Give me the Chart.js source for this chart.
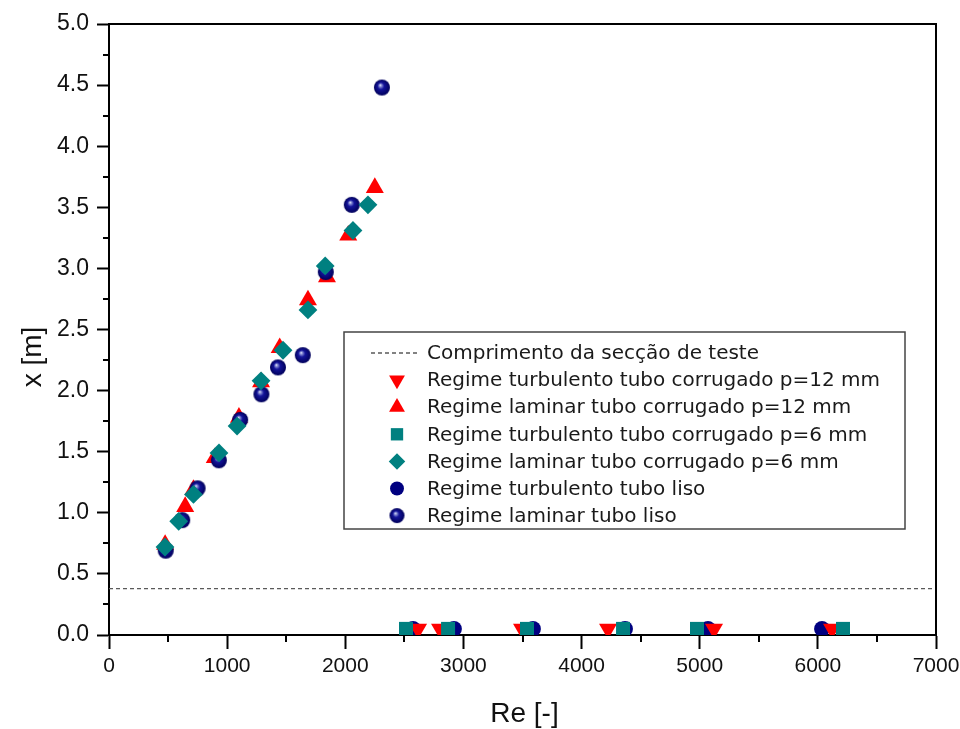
<!DOCTYPE html>
<html>
<head>
<meta charset="utf-8">
<script src="https://cdn.jsdelivr.net/npm/chart.js@4.4.1/dist/chart.umd.min.js"></script>
<style>
  html, body { margin: 0; padding: 0; background: #ffffff; }
  canvas { display: block; }
</style>
</head>
<body>
<canvas id="chart" width="960" height="729"></canvas>
<script>
// Development length x [m] against Reynolds number Re [-]
const reTurbP12  = [2616, 2802, 3496, 4224, 5121, 6120];
const xTurbP12   = [0.05, 0.05, 0.05, 0.05, 0.05, 0.05];
const reLamP12   = [475, 645, 715, 895, 1100, 1287, 1445, 1684, 1845, 2025, 2250];
const xLamP12    = [0.74, 1.05, 1.19, 1.45, 1.78, 2.07, 2.35, 2.74, 2.93, 3.27, 3.66];
const reTurbP6   = [2514, 2870, 3538, 4351, 4977, 6213];
const xTurbP6    = [0.05, 0.05, 0.05, 0.05, 0.05, 0.05];
const reLamP6    = [474, 590, 715, 931, 1084, 1287, 1473, 1684, 1830, 2065, 2192];
const xLamP6     = [0.72, 0.93, 1.15, 1.49, 1.71, 2.08, 2.33, 2.66, 3.02, 3.31, 3.52];
const reTurbLiso = [2573, 2920, 3589, 4368, 5070, 6035];
const xTurbLiso  = [0.05, 0.05, 0.05, 0.05, 0.05, 0.05];
const reLamLiso  = [480, 620, 750, 930, 1110, 1290, 1430, 1640, 1835, 2055, 2310];
const xLamLiso   = [0.69, 0.94, 1.20, 1.43, 1.76, 1.97, 2.19, 2.29, 2.97, 3.52, 4.48];

// Length of the test section (horizontal reference line)
const testSectionLength = 0.38;

// Axis ranges and tick steps
const reAxis = { min: 0, max: 7000, step: 1000, minor: 500 };
const xAxis  = { min: 0, max: 5, step: 0.5, minor: 0.25 };

const legendLabels = [
  'Comprimento da secção de teste',
  'Regime turbulento tubo corrugado p=12 mm',
  'Regime laminar tubo corrugado p=12 mm',
  'Regime turbulento tubo corrugado p=6 mm',
  'Regime laminar tubo corrugado p=6 mm',
  'Regime turbulento tubo liso',
  'Regime laminar tubo liso'
];

const RED = '#ff0000', TEAL = '#008080', NAVY = '#000080';

function pairs(xs, ys) { return xs.map((v, i) => ({ x: v, y: ys[i] })); }

// Shaded ball marker
function makeSphere(r) {
  const s = Math.ceil(2 * r + 2);
  const c = document.createElement('canvas');
  c.width = s; c.height = s;
  const g = c.getContext('2d');
  const cx = s / 2, cy = s / 2;
  const grd = g.createRadialGradient(cx - r * 0.22, cy - r * 0.32, 0, cx, cy, r);
  grd.addColorStop(0, '#f2f4ff');
  grd.addColorStop(0.16, '#8a90d6');
  grd.addColorStop(0.42, '#14149a');
  grd.addColorStop(1, '#00005a');
  g.fillStyle = grd;
  g.beginPath(); g.arc(cx, cy, r, 0, Math.PI * 2); g.fill();
  return c;
}
const sphere = makeSphere(8);
const legendSphere = makeSphere(7.5);

const markers = [
  { pointStyle: 'triangle', rotation: 180, radius: 10.4, color: RED },
  { pointStyle: 'triangle', rotation: 0, radius: 10.4, color: RED },
  { pointStyle: 'rect', rotation: 0, radius: 9.9, color: TEAL },
  { pointStyle: 'rectRot', rotation: 0, radius: 9.4, color: TEAL },
  { pointStyle: 'circle', rotation: 0, radius: 7.9, color: NAVY },
  { pointStyle: sphere, rotation: 0, radius: 8, color: NAVY }
];

function scatterSet(label, data, m, order) {
  return {
    type: 'scatter', label, data, order,
    pointStyle: m.pointStyle, rotation: m.rotation, pointRadius: m.radius,
    pointHoverRadius: m.radius, pointBorderWidth: 0,
    backgroundColor: m.color, borderColor: m.color, showLine: false
  };
}

const datasets = [
  {
    type: 'line', label: legendLabels[0], order: 10,
    data: [{ x: reAxis.min, y: testSectionLength }, { x: reAxis.max, y: testSectionLength }],
    borderColor: '#5a5a5a', borderWidth: 1.3, borderDash: [4, 3],
    pointRadius: 0, fill: false
  },
  scatterSet(legendLabels[5], pairs(reTurbLiso, xTurbLiso), markers[4], 6),
  scatterSet(legendLabels[1], pairs(reTurbP12, xTurbP12), markers[0], 5),
  scatterSet(legendLabels[3], pairs(reTurbP6, xTurbP6), markers[2], 4),
  scatterSet(legendLabels[2], pairs(reLamP12, xLamP12), markers[1], 3),
  scatterSet(legendLabels[6], pairs(reLamLiso, xLamLiso), markers[5], 2),
  scatterSet(legendLabels[4], pairs(reLamP6, xLamP6), markers[3], 1)
];

// Short minor tick marks between the labelled ones
const minorTicks = {
  id: 'minorTicks',
  afterDraw(chart) {
    const { ctx, scales: { x, y } } = chart;
    ctx.save();
    ctx.strokeStyle = '#000'; ctx.lineWidth = 2;
    ctx.beginPath();
    for (let v = reAxis.min + reAxis.minor; v < reAxis.max; v += reAxis.step) {
      const px = Math.round(x.getPixelForValue(v));
      ctx.moveTo(px, y.bottom); ctx.lineTo(px, y.bottom + 7);
    }
    for (let v = xAxis.min + xAxis.minor; v < xAxis.max; v += xAxis.step) {
      const py = Math.round(y.getPixelForValue(v));
      ctx.moveTo(x.left, py); ctx.lineTo(x.left - 6, py);
    }
    ctx.stroke();
    ctx.restore();
  }
};

// Closing top and right lines of the plot frame
const frame = {
  id: 'frame',
  afterDraw(chart) {
    const { ctx, chartArea: a } = chart;
    ctx.save();
    ctx.strokeStyle = '#000'; ctx.lineWidth = 2;
    ctx.beginPath();
    ctx.moveTo(a.left - 1, a.top); ctx.lineTo(a.right, a.top); ctx.lineTo(a.right, a.bottom);
    ctx.stroke();
    ctx.restore();
  }
};

// Axis titles
const axisTitles = {
  id: 'axisTitles',
  afterDraw(chart) {
    const { ctx, chartArea: a } = chart;
    ctx.save();
    ctx.fillStyle = '#111';
    ctx.font = '28px "Liberation Sans", Arial, sans-serif';
    ctx.textAlign = 'center'; ctx.textBaseline = 'middle';
    ctx.fillText('Re [-]', (a.left + a.right) / 2 + 2, 714);
    ctx.translate(33, 357);
    ctx.rotate(-Math.PI / 2);
    ctx.fillText('x [m]', 0, 0);
    ctx.restore();
  }
};

// Boxed legend inside the plot
const boxLegend = {
  id: 'boxLegend',
  afterDraw(chart) {
    const { ctx } = chart;
    const box = { left: 344, top: 332, right: 905, bottom: 529 };
    ctx.save();
    ctx.fillStyle = '#ffffff';
    ctx.fillRect(box.left, box.top, box.right - box.left, box.bottom - box.top);
    ctx.strokeStyle = '#444'; ctx.lineWidth = 1.5;
    ctx.strokeRect(box.left, box.top, box.right - box.left, box.bottom - box.top);
    const symX = 397, textX = 427, row0 = 353, rowH = 27.1;
    ctx.font = '20px "DejaVu Sans", Verdana, sans-serif';
    ctx.textBaseline = 'middle'; ctx.textAlign = 'left';
    legendLabels.forEach((label, i) => {
      const yy = row0 + i * rowH;
      if (i === 0) {
        ctx.strokeStyle = '#5a5a5a'; ctx.lineWidth = 1.3; ctx.setLineDash([4, 3]);
        ctx.beginPath(); ctx.moveTo(371, yy); ctx.lineTo(419, yy); ctx.stroke();
        ctx.setLineDash([]);
      } else {
        const m = markers[i - 1];
        ctx.fillStyle = m.color; ctx.strokeStyle = m.color;
        Chart.helpers.drawPoint(ctx, {
          pointStyle: m.pointStyle === sphere ? legendSphere : m.pointStyle,
          rotation: m.rotation,
          radius: m.radius * 0.88, borderWidth: 0
        }, symX, yy);
      }
      ctx.fillStyle = '#1a1a1a';
      ctx.fillText(label, textX, yy + 1);
    });
    ctx.restore();
  }
};

new Chart(document.getElementById('chart'), {
  type: 'scatter',
  data: { datasets },
  options: {
    responsive: false,
    animation: false,
    layout: { padding: { top: 24, right: 24, left: 0, bottom: 0 } },
    plugins: { legend: { display: false }, tooltip: { enabled: false } },
    scales: {
      x: {
        type: 'linear', position: 'bottom',
        min: reAxis.min, max: reAxis.max,
        afterFit(s) { s.height = 94; s.paddingLeft = 0; s.paddingRight = 0; },
        ticks: {
          stepSize: reAxis.step, padding: 5, color: '#111',
          font: { family: '"Liberation Sans", Arial, sans-serif', size: 21 },
          callback: v => String(v)
        },
        grid: { drawOnChartArea: false, drawTicks: true, tickLength: 14, tickWidth: 2, tickColor: '#000' },
        border: { display: true, color: '#000', width: 2 }
      },
      y: {
        type: 'linear', position: 'left',
        min: xAxis.min, max: xAxis.max,
        afterFit(s) { s.width = 109; s.paddingTop = 0; s.paddingBottom = 0; },
        ticks: {
          stepSize: xAxis.step, padding: 8, color: '#111',
          font: { family: '"Liberation Sans", Arial, sans-serif', size: 23 },
          callback: v => v.toFixed(1)
        },
        grid: { drawOnChartArea: false, drawTicks: true, tickLength: 12, tickWidth: 2, tickColor: '#000' },
        border: { display: true, color: '#000', width: 2 }
      }
    }
  },
  plugins: [minorTicks, frame, axisTitles, boxLegend]
});
</script>
</body>
</html>
